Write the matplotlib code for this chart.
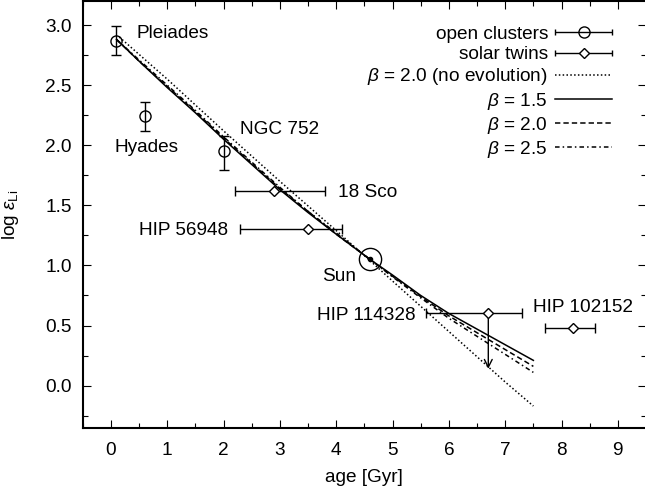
import numpy as np
import matplotlib
matplotlib.use('Agg')
import matplotlib.pyplot as plt
from matplotlib.legend_handler import HandlerErrorbar

plt.rcParams['font.family'] = ['Liberation Sans', 'DejaVu Sans']
plt.rcParams['mathtext.fontset'] = 'custom'
plt.rcParams['mathtext.rm'] = 'Liberation Sans'
plt.rcParams['mathtext.it'] = 'Liberation Sans:italic'
plt.rcParams['font.size'] = 13.7

# open clusters (age, log eps Li, errors)
oc_names = ['Pleiades', 'Hyades', 'NGC 752']
oc_age = [0.1, 0.6, 2.0]
oc_li = [2.87, 2.24, 1.95]
oc_err_lo = [0.12, 0.12, 0.16]
oc_err_hi = [0.12, 0.12, 0.13]

# solar twins
tw_names = ['18 Sco', 'HIP 56948', 'HIP 114328', 'HIP 102152']
tw_age = [2.9, 3.5, 6.7, 8.2]
tw_li = [1.62, 1.30, 0.60, 0.48]
tw_age_lo = [0.7, 1.2, 1.1, 0.5]
tw_age_hi = [0.9, 0.6, 0.6, 0.4]
hip114328_limit = 0.14

sun_age, sun_li = 4.6, 1.05

# model curves
mod_age = [0.1, 0.5, 1.0, 1.5, 2.0, 2.5, 3.0, 3.5, 4.0, 4.6, 5.0, 5.5, 6.0, 6.5, 7.0, 7.5]
beta15 = [2.88, 2.70, 2.48, 2.27, 2.05, 1.84, 1.63, 1.44, 1.26, 1.05, 0.92, 0.75, 0.60, 0.47, 0.34, 0.21]
beta20 = [2.88, 2.70, 2.49, 2.28, 2.06, 1.85, 1.64, 1.45, 1.26, 1.05, 0.91, 0.74, 0.58, 0.44, 0.30, 0.16]
beta25 = [2.88, 2.71, 2.50, 2.29, 2.07, 1.86, 1.65, 1.45, 1.27, 1.05, 0.905, 0.73, 0.56, 0.41, 0.26, 0.11]
noev_age = [0.15, 1.0, 2.0, 3.0, 4.0, 4.6, 5.0, 6.0, 7.0, 7.5]
beta20_noev = [2.90, 2.55, 2.12, 1.70, 1.29, 1.04, 0.87, 0.45, 0.03, -0.17]

fig = plt.figure(figsize=(6.45, 4.93), dpi=100)
ax = fig.add_axes([0.1282, 0.1325, 0.8734, 0.8655])

ax.plot(noev_age, beta20_noev, color='k', lw=1.1, ls=(0, (1, 1.5)))
ax.plot(mod_age, beta15, color='k', lw=1.1, ls='-')
ax.plot(mod_age, beta20, color='k', lw=1.1, ls=(0, (3.5, 2)))
ax.plot(mod_age, beta25, color='k', lw=1.1, ls=(0, (3, 2, 1, 2)))

ax.errorbar(oc_age, oc_li, yerr=[oc_err_lo, oc_err_hi], fmt='o', ms=8, mfc='none',
            mec='k', mew=1.0, ecolor='k', elinewidth=1.0, capsize=3.6, capthick=1.0)
ax.errorbar(tw_age, tw_li, xerr=[tw_age_lo, tw_age_hi], fmt='D', ms=5, mfc='white',
            mec='k', mew=1.0, ecolor='k', elinewidth=1.0, capsize=3.6, capthick=1.0, zorder=3)
ax.annotate('', xy=(tw_age[2], hip114328_limit), xytext=(tw_age[2], tw_li[2]),
            arrowprops=dict(arrowstyle='->', color='k', lw=1.0, mutation_scale=14,
                            shrinkA=0, shrinkB=0))

# the Sun
ax.plot([sun_age], [sun_li], 'o', ms=16, mfc='none', mec='k', mew=1.0)
ax.plot([sun_age], [sun_li], 'o', ms=3, color='k')

# labels
ax.text(0.45, 2.93, 'Pleiades', va='center')
ax.text(0.06, 1.98, 'Hyades', va='center')
ax.text(2.30, 2.13, 'NGC 752', va='center')
ax.text(4.04, 1.61, '18 Sco', va='center')
ax.text(2.08, 1.29, 'HIP 56948', va='center', ha='right')
ax.text(3.75, 0.905, 'Sun', va='center')
ax.text(5.41, 0.58, 'HIP 114328', va='center', ha='right')
ax.text(7.50, 0.65, 'HIP 102152', va='center')

# legend proxies
oc_proxy = ax.errorbar([np.nan], [np.nan], xerr=[1], fmt='o', ms=8, mfc='none', mec='k',
                       ecolor='k', elinewidth=1.0, capsize=2.5, capthick=1.0)
tw_proxy = ax.errorbar([np.nan], [np.nan], xerr=[1], fmt='D', ms=5, mfc='white', mec='k',
                       ecolor='k', elinewidth=1.0, capsize=2.5, capthick=1.0)
l1, = ax.plot([], [], color='k', lw=1.1, ls=(0, (1, 1.5)))
l2, = ax.plot([], [], color='k', lw=1.1, ls='-')
l3, = ax.plot([], [], color='k', lw=1.1, ls=(0, (3.5, 2)))
l4, = ax.plot([], [], color='k', lw=1.1, ls=(0, (3, 2, 1, 2)))
ax.legend([oc_proxy, tw_proxy, l1, l2, l3, l4],
          ['open clusters', 'solar twins', r'$\beta$ = 2.0 (no evolution)',
           r'$\beta$ = 1.5', r'$\beta$ = 2.0', r'$\beta$ = 2.5'],
          loc='upper right', bbox_to_anchor=(0.9397, 0.943), borderaxespad=0, borderpad=0,
          frameon=False, markerfirst=False, handlelength=3.0, handletextpad=0.37,
          labelspacing=0.17, numpoints=1,
          handler_map={type(oc_proxy): HandlerErrorbar(xerr_size=1.5)})

ax.set_xlim(-0.5, 9.5)
ax.set_ylim(-0.35, 3.2)
ax.set_xticks(range(0, 10))
ax.set_xticks(np.arange(-0.5, 9.6, 0.5), minor=True)
ax.set_yticks([0.0, 0.5, 1.0, 1.5, 2.0, 2.5, 3.0])
ax.set_yticklabels(['0.0', '0.5', '1.0', '1.5', '2.0', '2.5', '3.0'])
ax.set_yticks(np.arange(-0.25, 3.2, 0.25), minor=True)
ax.tick_params(which='both', direction='in', top=True, right=True, width=0.8)
ax.tick_params(which='major', length=6, pad=10.5)
ax.tick_params(which='minor', length=3.3)
ax.tick_params(axis='y', which='major', pad=8)
for s in ax.spines.values():
    s.set_linewidth(1.5)

ax.set_xlabel('age [Gyr]')
ax.set_ylabel(r'log $\varepsilon_{\rm Li}$')
ax.xaxis.set_label_coords(0.5, -0.098)
ax.yaxis.set_label_coords(-0.109, 0.5)

fig.savefig('out.png', dpi=100)
